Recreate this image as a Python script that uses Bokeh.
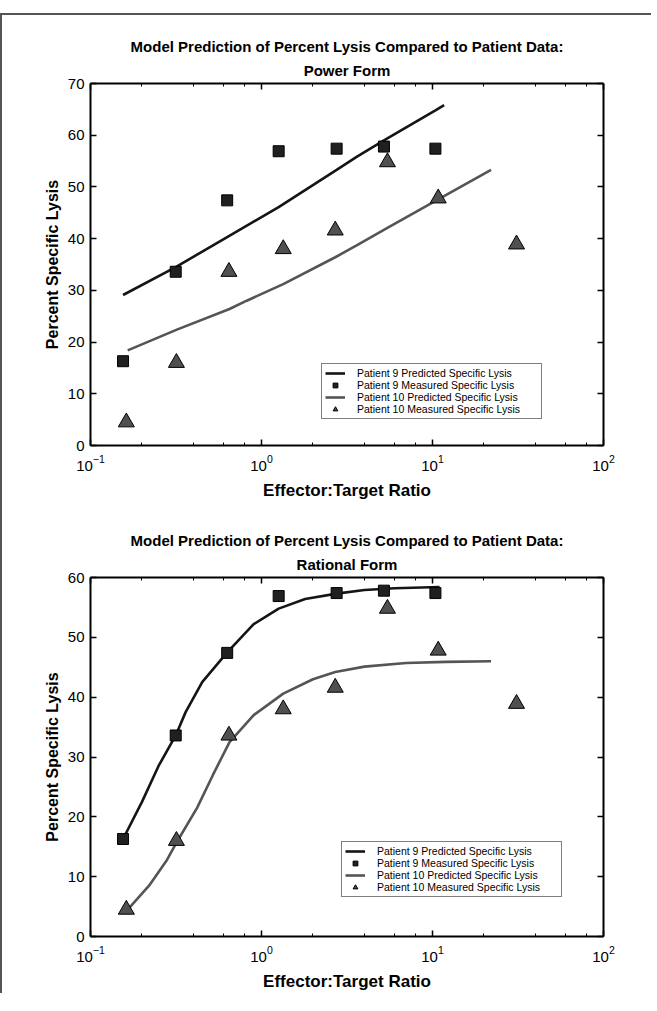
from bokeh.plotting import figure
from bokeh.models import Range1d, LinearAxis, LogAxis, LogTicker, FixedTicker, Legend, LegendItem, Title
from bokeh.layouts import column
from bokeh.embed import file_html
from bokeh.resources import INLINE

# ---- data ----
ratio9 = [0.155, 0.315, 0.63, 1.26, 2.75, 5.2, 10.4]
meas9 = [16.3, 33.6, 47.4, 56.9, 57.4, 57.8, 57.4]
ratio10 = [0.162, 0.318, 0.645, 1.34, 2.7, 5.45, 10.8, 31.0]
meas10 = [4.5, 16.0, 33.6, 38.0, 41.6, 54.8, 47.8, 38.9]

pow_x9 = [0.155, 0.315, 0.63, 1.26, 2.75, 3.6, 5.2, 10.4, 11.7]
pow_y9 = [29.1, 34.5, 40.3, 46.1, 53.3, 55.8, 59.0, 64.8, 65.8]
pow_x10 = [0.165, 0.32, 0.65, 0.82, 1.34, 2.7, 3.6, 5.45, 10.8, 22.0]
pow_y10 = [18.4, 22.4, 26.4, 28.0, 31.2, 36.4, 38.7, 42.1, 47.6, 53.3]

rat_x9 = [0.155, 0.2, 0.25, 0.315, 0.36, 0.45, 0.63, 0.9, 1.26, 1.8, 2.75, 4.0, 6.0, 11.0]
rat_y9 = [16.3, 22.5, 28.5, 33.6, 37.5, 42.5, 47.5, 52.2, 54.8, 56.4, 57.3, 57.9, 58.2, 58.4]
rat_x10 = [0.165, 0.22, 0.28, 0.32, 0.42, 0.52, 0.65, 0.9, 1.34, 2.0, 2.7, 4.0, 7.0, 12.0, 22.0]
rat_y10 = [4.5, 8.5, 12.8, 15.8, 21.5, 27.0, 32.5, 37.0, 40.6, 43.0, 44.2, 45.1, 45.7, 45.9, 46.0]

title_main = "Model Prediction of Percent Lysis Compared to Patient Data:"
subtitles = ["Power Form", "Rational Form"]
x_label = "Effector:Target Ratio"
y_label = "Percent Specific Lysis"
legend_labels = ["Patient 9 Predicted Specific Lysis", "Patient 9 Measured Specific Lysis",
                 "Patient 10 Predicted Specific Lysis", "Patient 10 Measured Specific Lysis"]
y_max = [70, 60]

FONT = "Liberation Sans"


def style_axis(ax, labels=True):
    ax.axis_line_color = "black"
    ax.axis_line_width = 2
    ax.major_tick_line_color = "black"
    ax.minor_tick_line_color = "black"
    ax.major_tick_line_width = 1.5
    ax.minor_tick_line_width = 1
    ax.major_tick_in = 6
    ax.major_tick_out = 0
    ax.minor_tick_in = 3
    ax.minor_tick_out = 0
    ax.major_label_text_font = FONT
    ax.axis_label_text_font = FONT
    ax.axis_label_text_font_style = "bold"
    ax.axis_label_text_color = "black"
    if labels:
        ax.major_label_text_font_size = "15px"
        ax.major_label_text_color = "black"
    else:
        ax.major_label_text_color = None
        ax.major_label_text_font_size = "0px"


def make_plot(k, px9, py9, px10, py10, width, height, bl, bt, br, bb, leg_loc):
    p = figure(width=width, height=height, x_axis_type="log",
               x_range=Range1d(0.1, 100), y_range=Range1d(0, y_max[k]),
               output_backend="svg", toolbar_location=None,
               min_border_left=bl, min_border_top=bt, min_border_right=br, min_border_bottom=bb)
    p.outline_line_color = None
    p.grid.visible = False

    p.title.text = title_main
    p.title.align = "center"
    p.title.text_font = FONT
    p.title.text_font_size = "15px"
    p.title.text_font_style = "bold"
    p.title.text_color = "black"
    p.title.standoff = 0

    p.xaxis.ticker = LogTicker(mantissas=[1], desired_num_ticks=4)
    p.yaxis.ticker = FixedTicker(ticks=list(range(0, y_max[k] + 1, 10)))
    p.xaxis.axis_label = x_label
    p.yaxis.axis_label = y_label
    for ax in p.xaxis + p.yaxis:
        style_axis(ax)
    p.xaxis.axis_label_text_font_size = "17px"
    p.yaxis.axis_label_text_font_size = "16px"
    p.xaxis.major_label_standoff = 9
    p.xaxis.axis_label_standoff = 7
    p.yaxis.major_label_standoff = 6
    p.yaxis.axis_label_standoff = 4
    p.yaxis.minor_tick_in = 0

    top = LogAxis(ticker=LogTicker(mantissas=[1], desired_num_ticks=4))
    right = LinearAxis(ticker=FixedTicker(ticks=list(range(0, y_max[k] + 1, 10))))
    style_axis(top, labels=False)
    style_axis(right, labels=False)
    right.minor_tick_in = 0
    p.add_layout(top, "above")
    p.add_layout(right, "right")

    sub = Title(text=subtitles[k], align="center", text_font=FONT, text_font_size="15px",
                text_font_style="bold", text_color="black", standoff=10)
    p.add_layout(sub, "above")

    r1 = p.line(px9, py9, line_color="#151515", line_width=2.6)
    r3 = p.line(px10, py10, line_color="#555555", line_width=2.6)
    r2 = p.scatter(ratio9, meas9, marker="square", size=11, fill_color="#202020",
                   line_color="black", line_width=1)
    r4 = p.scatter(ratio10, meas10, marker="triangle", size=16, fill_color="#505050",
                   line_color="black", line_width=1)

    legend = Legend(items=[LegendItem(label=legend_labels[0], renderers=[r1]),
                           LegendItem(label=legend_labels[1], renderers=[r2]),
                           LegendItem(label=legend_labels[2], renderers=[r3]),
                           LegendItem(label=legend_labels[3], renderers=[r4])],
                    location=leg_loc)
    legend.label_text_font = FONT
    legend.label_text_font_size = "10.5px"
    legend.label_text_color = "black"
    legend.label_height = 12
    legend.label_width = 181
    legend.glyph_height = 12
    legend.glyph_width = 20
    legend.label_standoff = 12
    legend.spacing = 0
    legend.padding = 3
    legend.margin = 0
    legend.border_line_color = "black"
    legend.border_line_width = 1.5
    legend.background_fill_color = "white"
    legend.background_fill_alpha = 1
    p.add_layout(legend)
    return p


p1 = make_plot(0, pow_x9, pow_y9, pow_x10, pow_y10, 639, 499, 79, 68, 38, 69, (231, 26))
p2 = make_plot(1, rat_x9, rat_y9, rat_x10, rat_y10, 639, 479, 88, 63, 31, 55, (251, 39))

layout = column(p1, p2, styles={"border-left": "2px solid #555555",
                                 "border-top": "2px solid #555555",
                                 "margin-top": "13px",
                                 "padding-right": "10px"})

open("out.html", "w").write(file_html(layout, INLINE))
